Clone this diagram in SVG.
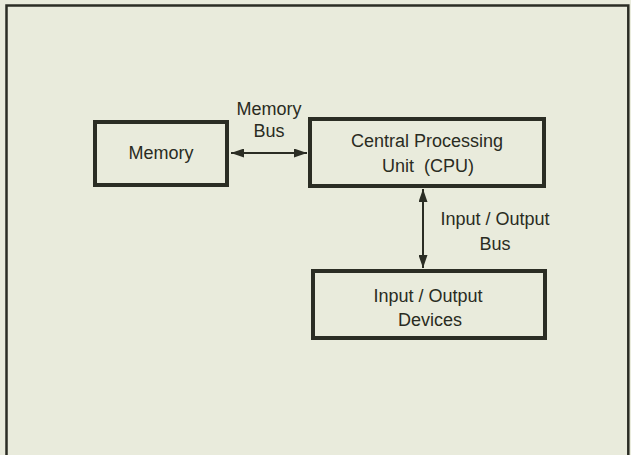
<svg xmlns="http://www.w3.org/2000/svg" width="631" height="455" viewBox="0 0 631 455">
  <style>
    .box { fill: none; stroke: #2b2d24; stroke-width: 4; }
    .frame { fill: none; stroke: #2b2d24; stroke-width: 2.5; }
    .conn { stroke: #2b2d24; stroke-width: 2; fill: none; }
    text { font-family: "Liberation Sans", Arial, sans-serif; font-size: 18px; fill: #2a2b22; text-anchor: middle; white-space: pre; }
  </style>
  <defs>
    <marker id="arrow" viewBox="0 0 13 9" refX="13" refY="4.5" markerWidth="13" markerHeight="9" markerUnits="userSpaceOnUse" orient="auto-start-reverse">
      <path d="M0,0 L13,4.5 L0,9 Z" fill="#2b2d24"/>
    </marker>
  </defs>
  <rect x="0" y="0" width="631" height="455" fill="#e9ebdc"/>
  <rect class="frame" x="6.5" y="5.5" width="621.8" height="470"/>

  <g id="connectors">
    <line class="conn" x1="231" y1="153" x2="307" y2="153" marker-start="url(#arrow)" marker-end="url(#arrow)"/>
    <line class="conn" x1="423" y1="189" x2="423" y2="268" marker-start="url(#arrow)" marker-end="url(#arrow)"/>
    <text x="269" y="115">Memory</text>
    <text x="269" y="137">Bus</text>
    <text x="495" y="225">Input / Output</text>
    <text x="495" y="250">Bus</text>
  </g>

  <g id="memory">
    <rect class="box" x="95" y="122" width="132" height="63"/>
    <text x="161" y="159">Memory</text>
  </g>

  <g id="cpu">
    <rect class="box" x="310" y="119" width="234" height="67"/>
    <text x="427" y="147">Central Processing</text>
    <text x="428" y="172">Unit  (CPU)</text>
  </g>

  <g id="io">
    <rect class="box" x="313" y="271" width="232" height="67"/>
    <text x="428" y="302">Input / Output</text>
    <text x="430" y="326">Devices</text>
  </g>
</svg>
